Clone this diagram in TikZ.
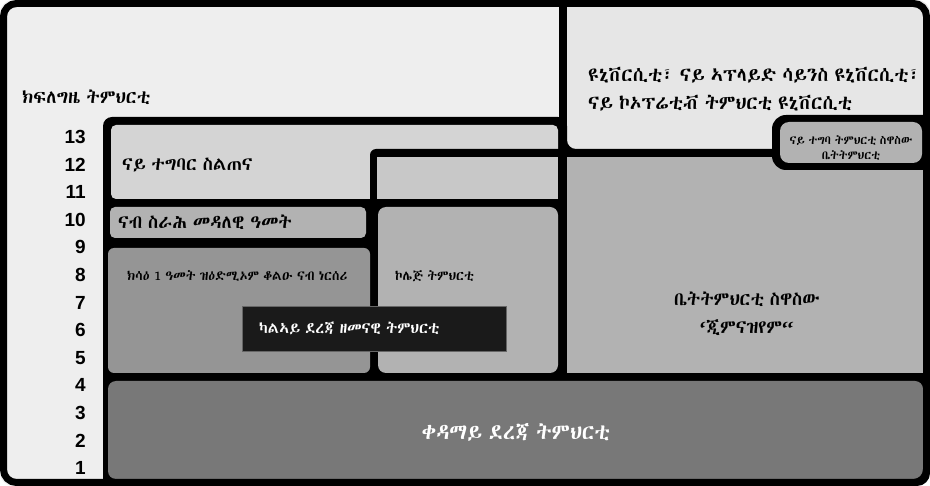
\documentclass[tikz,border=0pt]{standalone}
\usepackage{fontspec}
\usetikzlibrary{positioning}
\setsansfont{Liberation Sans}
\newfontfamily\ethfont[WordSpace=0.7]{Abyssinica SIL}
\definecolor{Grey_Page}{HTML}{EEEEEE}
\definecolor{Grey_Uni}{HTML}{E6E6E6}
\definecolor{Grey_Voc}{HTML}{D4D4D4}
\definecolor{Grey_Bridge}{HTML}{C8C8C8}
\definecolor{Grey_Mid}{HTML}{B2B2B2}
\definecolor{Grey_Nursery}{HTML}{959595}
\definecolor{Grey_Primary}{HTML}{787878}
\definecolor{Grey_Secondary}{HTML}{1A1A1A}
\begin{document}
\begin{tikzpicture}[x=1pt, y=-1pt,
    eth/.style={font=\ethfont\fontsize{18.5}{28}\selectfont, inner sep=0pt},
    ethsmall/.style={font=\ethfont\fontsize{13.5}{17}\selectfont, inner sep=0pt},
    year/.style={font=\sffamily\bfseries\fontsize{19}{19}\selectfont, anchor=east, inner sep=0pt}]
    \useasboundingbox (0,0) rectangle (930,486);
    \begin{scope}
        \clip[rounded corners=13] (0,0) rectangle (930,486);
        \fill[Grey_Page] (0,0) rectangle (930,486);
        \fill[Grey_Uni] (563,0) rectangle (930,149);
        % black backing of the school blocks
        \fill[black, rounded corners=9] (103,117) -- (567,117) -- (567,149) -- (940,149) -- (940,496) -- (103,496) -- cycle;
        % Row of vocational training
        \fill[Grey_Voc, rounded corners=5] (111,125) rectangle (558,199);
        \fill[black, rounded corners=6] (370,149) rectangle (567,207);
        \fill[Grey_Bridge] (377,157) rectangle (558,199);
        % Middle rows
        \fill[Grey_Mid, rounded corners=5] (110,207) rectangle (366,238);
        \fill[Grey_Nursery, rounded corners=6] (108,248) rectangle (370,373);
        \fill[Grey_Mid, rounded corners=8] (378,207) rectangle (558,373);
        \fill[Grey_Mid] (567,157) rectangle (923,373);
        % small box at the right
        \fill[black, rounded corners=14] (772,115) rectangle (940,170);
        \fill[Grey_Mid, rounded corners=9] (780,122) rectangle (922,163);
        % Primary school
        \fill[Grey_Primary, rounded corners=8] (108,381) rectangle (923,479);
        \draw[line width=8] (563,0) -- (563,149);
    \end{scope}
    \draw[line width=7, rounded corners=13] (3.5,3.5) rectangle (926.5,482.5);

    % years
    \foreach \n in {1,...,13}
        \node[year] (year\n) at (86,{137+(13-\n)*27.58}) {\n};

    % labels
    \node[eth, anchor=west] (phase) at (22,97) {ክፍለግዜ ትምህርቲ};
    \node[eth, anchor=west, align=left, font=\ethfont\fontsize{19.5}{28}\selectfont] (uni) at (588,89) {ዩኒቨርሲቲ፣ ናይ ኣፕላይድ ሳይንስ ዩኒቨርሲቲ፣\\ናይ ኮኦፕሬቲቭ ትምህርቲ ዩኒቨርሲቲ};
    \node[font=\ethfont\fontsize{12}{15}\selectfont, inner sep=0pt, align=center] (voc school) at (851,148) {ናይ ተግባ ትምህርቲ ስዋስው\\ቤትትምህርቲ};
    \node[eth, anchor=west] (voc) at (122,165) {ናይ ተግባር ስልጠና};
    \node[eth, anchor=west] (prep) at (118,222) {ናብ ስራሕ መዳለዊ ዓመት};
    \node[ethsmall, anchor=west] (nursery) at (127,276) {ክሳዕ 1 ዓመት ዝዕድሚኦም ቆልዑ ናብ ነርሰሪ};
    \node[ethsmall, anchor=west] (college) at (395,276) {ኮሌጅ ትምህርቲ};
    \node[eth, align=center] (gym) at (747,314) {ቤትትምህርቲ ስዋስው\\‘ጂምናዝየም“};
    \node[fill=Grey_Secondary, draw=black!60, anchor=north west, minimum width=264pt, minimum height=45pt,
        text width=230pt, inner xsep=17pt, align=left, text=white, font=\ethfont\fontsize{15.5}{18}\selectfont] (secondary) at (242,306) {ካልኣይ ደረጃ ዘመናዊ ትምህርቲ};
    \node[eth, text=white, font=\ethfont\fontsize{21.5}{24}\selectfont] (primary) at (516,432) {ቀዳማይ ደረጃ ትምህርቲ};
\end{tikzpicture}
\end{document}
